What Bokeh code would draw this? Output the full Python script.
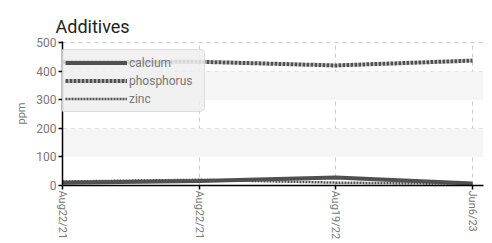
from bokeh.plotting import figure
from bokeh.models import FixedTicker, BoxAnnotation, Legend, LegendItem, Range1d
from bokeh.embed import file_html
from bokeh.resources import INLINE

dates = ["Aug22/21", "Aug22/21", "Aug19/22", "Jun6/23"]
calcium = [10, 16, 28, 7]
phosphorus = [434, 434, 421, 438]
zinc = [14, 20, 10, 6]
y_ticks = [0, 100, 200, 300, 400, 500]

xs = list(range(len(dates)))
FONT = "Roboto"
GRAY = "#777777"
LINE = "#505050"

p = figure(width=484, height=242, output_backend="svg", toolbar_location=None,
           min_border_left=62, min_border_top=41, min_border_right=1, min_border_bottom=0,
           x_range=Range1d(0, 3.08), y_range=Range1d(0, 505))
p.outline_line_color = None
p.background_fill_color = "white"

p.title.text = "Additives"
p.title.text_font = FONT
p.title.text_font_size = "18px"
p.title.text_font_style = "normal"
p.title.text_color = "#222222"
p.title.offset = -7

for lo, hi in [(100, 200), (300, 400)]:
    p.add_layout(BoxAnnotation(bottom=lo, top=hi, fill_color="#f5f5f5", fill_alpha=1, line_color=None, level="underlay"))

p.xaxis.ticker = FixedTicker(ticks=xs)
p.xaxis.major_label_overrides = {i: d for i, d in zip(xs, dates)}
p.xaxis.major_label_orientation = "vertical"
p.yaxis.ticker = FixedTicker(ticks=y_ticks)
p.yaxis.axis_label = "ppm"

for ax in (p.xaxis[0], p.yaxis[0]):
    ax.axis_line_color = "black"
    ax.axis_line_width = 1.5
    ax.major_tick_line_color = "black"
    ax.major_tick_line_width = 1.5
    ax.major_tick_out = 4
    ax.major_tick_in = 0
    ax.minor_tick_line_color = None
    ax.major_label_text_font = FONT
    ax.major_label_text_font_size = "12px"
    ax.major_label_text_color = GRAY
    ax.axis_label_text_font = FONT
    ax.axis_label_text_font_size = "11px"
    ax.axis_label_text_font_style = "normal"
    ax.axis_label_text_color = GRAY
    ax.major_label_standoff = 2

p.xaxis.major_label_text_font_size = "11px"
p.xaxis.major_label_standoff = 1

for g in (p.xgrid[0], p.ygrid[0]):
    g.grid_line_color = "#cccccc"
    g.grid_line_dash = "4 4"
    g.grid_line_width = 1

r1 = p.line(xs, calcium, line_color=LINE, line_width=4)
r2 = p.line(xs, phosphorus, line_color=LINE, line_width=4, line_dash="3 1")
r3 = p.line(xs, zinc, line_color=LINE, line_width=2.5, line_dash="2 1")

legend = Legend(items=[LegendItem(label="calcium", renderers=[r1]),
                       LegendItem(label="phosphorus", renderers=[r2]),
                       LegendItem(label="zinc", renderers=[r3])],
                location=(-3, 73))
legend.background_fill_color = "#eeeeee"
legend.background_fill_alpha = 0.85
legend.border_line_color = "#cccccc"
legend.border_line_width = 1
legend.border_radius = 5
legend.label_text_font = FONT
legend.label_text_font_size = "12px"
legend.label_text_color = GRAY
legend.glyph_width = 62
legend.glyph_height = 15
legend.label_height = 15
legend.spacing = 3
legend.padding = 5
legend.margin = 0
legend.label_standoff = 2
legend.label_width = 70
p.add_layout(legend, "center")

open("out.html", "w").write(file_html(p, INLINE))
